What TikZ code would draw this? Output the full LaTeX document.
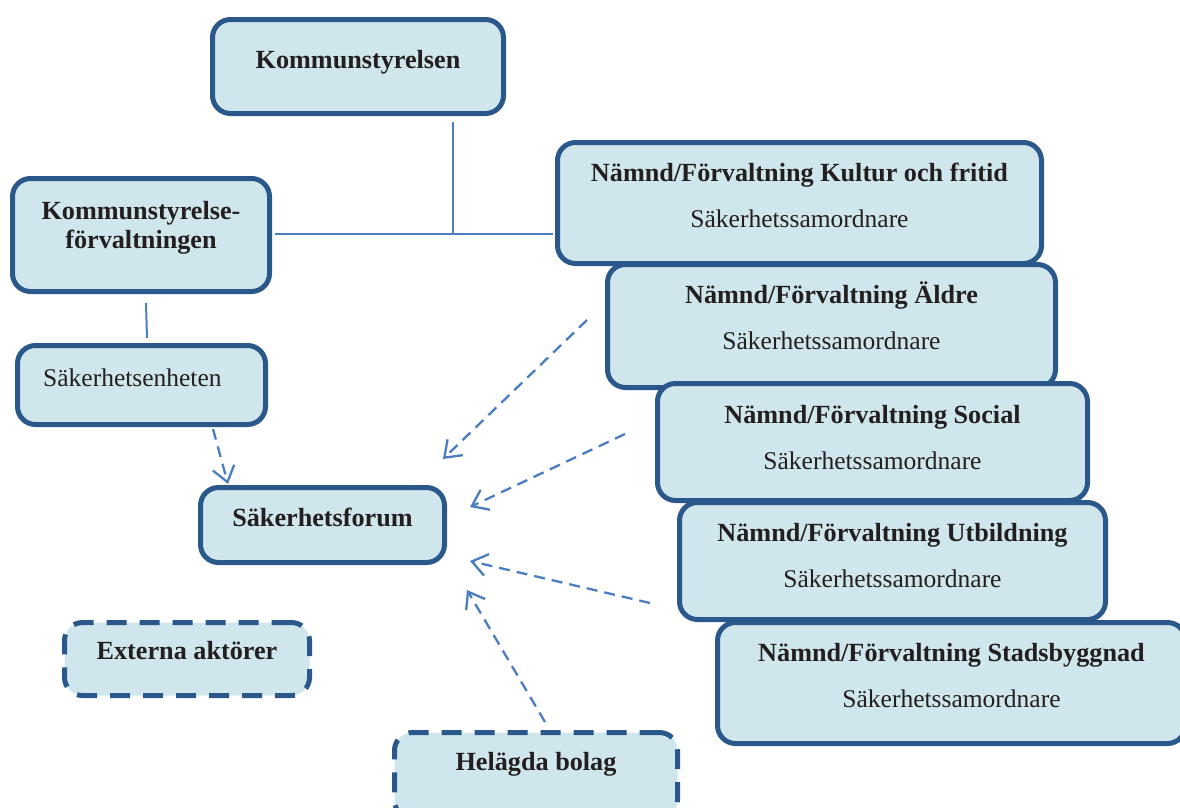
\documentclass[tikz,border=0pt]{standalone}
\usepackage{fontspec}
\setmainfont{Liberation Serif}
\usetikzlibrary{arrows.meta}
\definecolor{boxfill}{RGB}{208,230,237}
\definecolor{boxline}{RGB}{43,88,138}
\definecolor{conn}{RGB}{74,126,193}
\definecolor{txt}{RGB}{35,31,32}
\tikzset{
  box/.style={draw=boxline, fill=boxfill, line width=5pt, rounded corners=18pt, inner sep=0pt},
  dbox/.style={box, dash pattern=on 20pt off 13pt},
  ttl/.style={anchor=base, text=txt, font=\fontsize{26.2}{30}\selectfont\bfseries, inner sep=0pt, align=center},
  subtxt/.style={anchor=base, text=txt, font=\fontsize{25.5}{30}\selectfont, inner sep=0pt},
  solidline/.style={draw=conn, line width=2pt},
  darrow/.style={draw=conn, line width=2.3pt, dash pattern=on 11pt off 7pt,
    -{Straight Barb[length=15pt,width=22pt]}},
}
\begin{document}
\begin{tikzpicture}[x=1pt,y=-1pt]
\useasboundingbox (0,0) rectangle (1180,807);
\clip (0,0) rectangle (1180,807);

% boxes
\node[box, minimum width=291pt, minimum height=94pt] (ks) at (358,66.5) {};
\node[box, minimum width=257pt, minimum height=113pt] (ksf) at (141,235) {};
\node[box, minimum width=248pt, minimum height=79pt] (sen) at (141.5,385) {};
\node[box, minimum width=244pt, minimum height=75pt] (forum) at (322.5,525) {};
\node[dbox, minimum width=245pt, minimum height=73pt] (ext) at (187,659) {};
\node[dbox, minimum width=283pt, minimum height=86pt] (hel) at (536,775.5) {};
\node[box, minimum width=484pt, minimum height=121pt] (kultur) at (799.5,203) {};
\node[box, minimum width=448pt, minimum height=123pt] (aldre) at (831.5,326) {};
\node[box, minimum width=430pt, minimum height=117pt] (social) at (872.5,442) {};
\node[box, minimum width=426pt, minimum height=117pt] (utb) at (892.5,561) {};
\node[box, minimum width=468pt, minimum height=121pt] (stad) at (951.5,683) {};

% texts
\node[ttl] (tks) at (358,68) {Kommunstyrelsen};
\node[ttl] (tksf1) at (141,219.5) {Kommunstyrelse-};
\node[ttl] (tksf2) at (141,248.5) {förvaltningen};
\node[subtxt, anchor=base west] (tsen) at (43,386) {Säkerhetsenheten};
\node[ttl] (tforum) at (322.5,526) {Säkerhetsforum};
\node[ttl] (text) at (187,659) {Externa aktörer};
\node[ttl] (thel) at (536,770) {Helägda bolag};
\node[ttl] (tkultur) at (799.5,181.5) {Nämnd/Förvaltning Kultur och fritid};
\node[subtxt] (skultur) at (799.5,227) {Säkerhetssamordnare};
\node[ttl] (taldre) at (831.5,303.5) {Nämnd/Förvaltning Äldre};
\node[subtxt] (saldre) at (831.5,349.5) {Säkerhetssamordnare};
\node[ttl] (tsocial) at (872.5,423) {Nämnd/Förvaltning Social};
\node[subtxt] (ssocial) at (872.5,469.5) {Säkerhetssamordnare};
\node[ttl] (tutb) at (892.5,541.5) {Nämnd/Förvaltning Utbildning};
\node[subtxt] (sutb) at (892.5,587.5) {Säkerhetssamordnare};
\node[ttl] (tstad) at (951.5,661) {Nämnd/Förvaltning Stadsbyggnad};
\node[subtxt] (sstad) at (951.5,707) {Säkerhetssamordnare};

% solid connectors
\coordinate (jn) at (453,234);
\coordinate (kstop) at (453,122);
\draw[solidline] (kstop) -- (jn);
\draw[solidline, shorten <=2.5pt, shorten >=2.5pt] (ksf.east |- jn) -- (kultur.west |- jn);
\coordinate (k1) at (146,303);
\coordinate (s1) at (147,338);
\draw[solidline] (k1) -- (s1);

% dashed arrows
\coordinate (a1s) at (213,429);
\coordinate (a1e) at (228,484);
\coordinate (a2s) at (587,320);
\coordinate (a2e) at (443,459);
\coordinate (a3s) at (625,434);
\coordinate (a3e) at (470,507);
\coordinate (a4s) at (650,603);
\coordinate (a4e) at (470,561);
\coordinate (a5s) at (545,722);
\coordinate (a5e) at (467,590);
\draw[darrow] (a1s) -- (a1e);
\draw[darrow] (a2s) -- (a2e);
\draw[darrow] (a3s) -- (a3e);
\draw[darrow] (a4s) -- (a4e);
\draw[darrow] (a5s) -- (a5e);
\end{tikzpicture}
\end{document}
